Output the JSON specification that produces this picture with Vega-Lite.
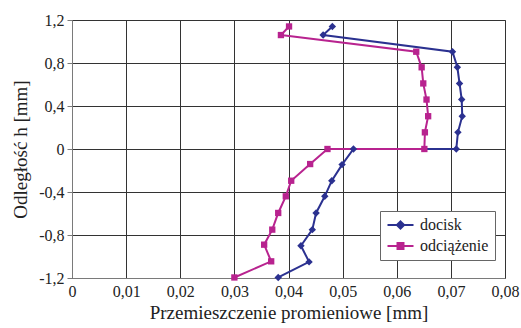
{
  "$schema": "https://vega.github.io/schema/vega-lite/v6.json",
  "width": 433,
  "height": 258,
  "autosize": "none",
  "padding": {"left": 72, "top": 20, "right": 16, "bottom": 50},
  "background": "white",
  "config": {
    "font": "Liberation Serif",
    "view": {"stroke": "#7a7a7a", "strokeWidth": 1},
    "axis": {
      "labelFont": "Liberation Serif",
      "titleFont": "Liberation Serif",
      "labelFontSize": 16,
      "titleFontSize": 19,
      "labelColor": "#222",
      "titleColor": "#222",
      "titleFontWeight": "normal",
      "gridColor": "#333",
      "gridOpacity": 1,
      "gridWidth": 1,
      "domainColor": "#7a7a7a",
      "tickColor": "#7a7a7a"
    },
    "legend": {"labelFont": "Liberation Serif"}
  },
  "data": {
    "values": [
      {"s": "docisk", "i": 0, "x": 0.0481, "y": 1.14},
      {"s": "docisk", "i": 1, "x": 0.0464, "y": 1.06},
      {"s": "docisk", "i": 2, "x": 0.0703, "y": 0.905},
      {"s": "docisk", "i": 3, "x": 0.0712, "y": 0.76},
      {"s": "docisk", "i": 4, "x": 0.0716, "y": 0.61},
      {"s": "docisk", "i": 5, "x": 0.0720, "y": 0.46},
      {"s": "docisk", "i": 6, "x": 0.0721, "y": 0.305},
      {"s": "docisk", "i": 7, "x": 0.0713, "y": 0.155},
      {"s": "docisk", "i": 8, "x": 0.0710, "y": 0.0},
      {"s": "docisk", "i": 9, "x": 0.0520, "y": 0.0},
      {"s": "docisk", "i": 10, "x": 0.0499, "y": -0.145},
      {"s": "docisk", "i": 11, "x": 0.0480, "y": -0.295},
      {"s": "docisk", "i": 12, "x": 0.0467, "y": -0.44},
      {"s": "docisk", "i": 13, "x": 0.0451, "y": -0.595},
      {"s": "docisk", "i": 14, "x": 0.0444, "y": -0.75},
      {"s": "docisk", "i": 15, "x": 0.0423, "y": -0.9},
      {"s": "docisk", "i": 16, "x": 0.0438, "y": -1.05},
      {"s": "docisk", "i": 17, "x": 0.0381, "y": -1.195},
      {"s": "odciążenie", "i": 0, "x": 0.0401, "y": 1.14},
      {"s": "odciążenie", "i": 1, "x": 0.0386, "y": 1.06},
      {"s": "odciążenie", "i": 2, "x": 0.0636, "y": 0.905},
      {"s": "odciążenie", "i": 3, "x": 0.0646, "y": 0.76},
      {"s": "odciążenie", "i": 4, "x": 0.0649, "y": 0.61},
      {"s": "odciążenie", "i": 5, "x": 0.0655, "y": 0.46},
      {"s": "odciążenie", "i": 6, "x": 0.0658, "y": 0.305},
      {"s": "odciążenie", "i": 7, "x": 0.0652, "y": 0.155},
      {"s": "odciążenie", "i": 8, "x": 0.0651, "y": 0.0},
      {"s": "odciążenie", "i": 9, "x": 0.0472, "y": 0.0},
      {"s": "odciążenie", "i": 10, "x": 0.0440, "y": -0.14},
      {"s": "odciążenie", "i": 11, "x": 0.0405, "y": -0.295},
      {"s": "odciążenie", "i": 12, "x": 0.0395, "y": -0.44},
      {"s": "odciążenie", "i": 13, "x": 0.0381, "y": -0.595},
      {"s": "odciążenie", "i": 14, "x": 0.0370, "y": -0.75},
      {"s": "odciążenie", "i": 15, "x": 0.0355, "y": -0.89},
      {"s": "odciążenie", "i": 16, "x": 0.0368, "y": -1.045},
      {"s": "odciążenie", "i": 17, "x": 0.0300, "y": -1.195}
    ]
  },
  "encoding": {
    "x": {
      "field": "x", "type": "quantitative",
      "scale": {"domain": [0, 0.08], "nice": false, "zero": false},
      "axis": {
        "values": [0, 0.01, 0.02, 0.03, 0.04, 0.05, 0.06, 0.07, 0.08],
        "labelExpr": "replace(format(datum.value, '.2~f'), '.', ',')",
        "ticks": false,
        "labelPadding": 5,
        "labelFlush": false,
        "title": "Przemieszczenie promieniowe [mm]",
        "titlePadding": 4
      }
    },
    "y": {
      "field": "y", "type": "quantitative",
      "scale": {"domain": [-1.2, 1.2], "nice": false, "zero": false},
      "axis": {
        "values": [-1.2, -0.8, -0.4, 0, 0.4, 0.8, 1.2],
        "labelExpr": "replace(replace(format(datum.value, '.1~f'), '.', ','), '\u2212', '-')",
        "tickSize": 5,
        "labelPadding": 3,
        "labelFlush": false,
        "title": "Odległość h [mm]",
        "titlePadding": 8
      }
    },
    "color": {
      "field": "s", "type": "nominal",
      "scale": {"domain": ["docisk", "odciążenie"], "range": ["#2b3190", "#b8238f"]},
      "legend": {
        "title": null,
        "orient": "none",
        "legendX": 308,
        "legendY": 191,
        "strokeColor": "#666",
        "fillColor": "white",
        "padding": 6,
        "labelFontSize": 16,
        "labelColor": "#222",
        "symbolSize": 169,
        "symbolStrokeWidth": 2,
        "rowPadding": 5,
        "labelOffset": 18,
        "encode": {
          "symbols": {
            "update": {
              "shape": {"signal": "datum.value === 'docisk' ? 'M-1,0H3M1,-0.56L1.56,0L1,0.56L0.44,0Z' : 'M-1,0H3M0.54,-0.46H1.46V0.46H0.54Z'"},
              "fill": {"signal": "scale('color', datum.value)"},
              "stroke": {"signal": "scale('color', datum.value)"},
              "strokeWidth": {"value": 2},
              "opacity": {"value": 1}
            }
          }
        }
      }
    }
  },
  "layer": [
    {
      "mark": {"type": "line", "strokeWidth": 2},
      "encoding": {
        "order": {"field": "i", "type": "quantitative"}
      }
    },
    {
      "transform": [{"filter": "datum.s === 'docisk'"}],
      "mark": {"type": "point", "filled": true, "opacity": 1, "shape": "diamond", "size": 55}
    },
    {
      "transform": [{"filter": "datum.s === 'odciążenie'"}],
      "mark": {"type": "point", "filled": true, "opacity": 1, "shape": "square", "size": 40}
    }
  ]
}
